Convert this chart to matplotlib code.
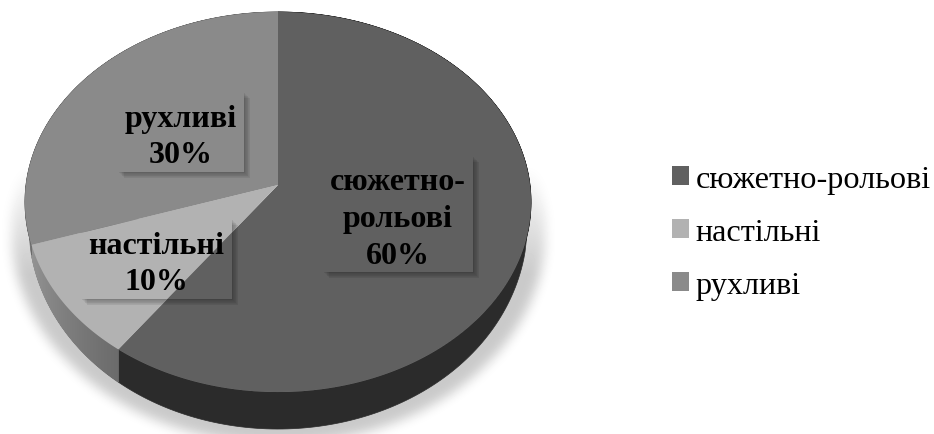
import numpy as np
import matplotlib
matplotlib.use("Agg")
import matplotlib.pyplot as plt
from matplotlib.patches import Patch, Rectangle

labels = ["сюжетно-рольові", "настільні", "рухливі"]
box_labels = ["сюжетно-\nрольові\n60%", "настільні\n10%", "рухливі\n30%"]
values = [60, 10, 30]
colors = ["#606060", "#b2b2b2", "#8a8a8a"]
side_colors = ["#2b2b2b", "#7c7c7c", "#6a6a6a"]

plt.rcParams["font.family"] = ["Liberation Serif", "DejaVu Serif"]

# apex of the pie and perspective of the tilted disc, in pixels
cx, cy = 278, 186
rx, ry, persp = 252, 188.5, 0.0895
depth = 37


def project(angle):
    # angle is clockwise from the top
    x = np.sin(angle)
    y = np.cos(angle)
    w = 1 + persp * y
    return cx + rx * x / w, cy - ry * y / w


def wall(angle):
    # the wall thins out towards the sides of the disc
    return depth * np.clip((-np.cos(angle) - 0.28) / 0.72, 0, 1) ** 0.4


def blur(a, n, passes=3):
    kernel = np.ones(n) / n
    for _ in range(passes):
        a = np.apply_along_axis(lambda r: np.convolve(r, kernel, mode="same"), 0, a)
        a = np.apply_along_axis(lambda r: np.convolve(r, kernel, mode="same"), 1, a)
    return a


fig = plt.figure(figsize=(9.34, 4.35), dpi=100)
ax = fig.add_axes([0, 0, 1, 1])
ax.axis("off")

# soft shadow behind the pie
yy, xx = np.mgrid[-40:475, 0:600]
shape = (((xx - 278) / 267.0) ** 2 + ((yy - 232) / 212.0) ** 2 < 1).astype(float)
soft = blur(shape, 11)
fade = np.clip((yy - 165) / 110.0, 0, 1)
shade = 1 - 0.21 * soft * fade
ax.imshow(shade, cmap="gray", vmin=0, vmax=1, extent=(0, 600, 475, -40), aspect="auto", zorder=0)
ax.set_xlim(0, 934)
ax.set_ylim(435, 0)

# side wall, then the top surface
edges = np.cumsum([0] + values) / sum(values) * 2 * np.pi
for i in range(len(values)):
    t = np.linspace(edges[i], edges[i + 1], 200)
    px, py = project(t)
    d = wall(t)
    if i == 1:
        # the light slice has a shaded wall
        for j in range(len(t) - 1):
            g = 0.42 + 0.16 * j / (len(t) - 2)
            ax.fill([px[j], px[j + 1], px[j + 1], px[j]],
                    [py[j], py[j + 1], py[j + 1] + d[j + 1], py[j] + d[j]],
                    color=str(g), lw=0.6, zorder=1)
    else:
        ax.fill(np.r_[px, px[::-1]], np.r_[py, (py + d)[::-1]],
                color=side_colors[i], lw=0.5, zorder=1)

for i in range(len(values)):
    t = np.linspace(edges[i], edges[i + 1], 200)
    px, py = project(t)
    ax.fill(np.r_[cx, px], np.r_[cy, py], color=colors[i], lw=0, zorder=2)

# label boxes are see-through, only their drop shadows show
boxes = [(323, 157, 150, 116), (81, 220, 151, 80), (118, 93, 126, 80)]
for (bx, by, bw, bh), lab in zip(boxes, box_labels):
    for k in range(9, 0, -1):
        ax.add_patch(Rectangle((bx + k * 0.7, by + k * 0.7), bw, bh, fc="black", ec="none",
                               alpha=0.035, zorder=3))
    # the shadow must not show through the box, so repaint the slices inside it
    rect = Rectangle((bx, by), bw, bh, fc="none", ec="none", zorder=4)
    ax.add_patch(rect)
    for i in range(len(values)):
        t = np.linspace(edges[i], edges[i + 1], 200)
        px, py = project(t)
        poly = ax.fill(np.r_[cx, px], np.r_[cy, py], color=colors[i], lw=0, zorder=4)[0]
        poly.set_clip_path(rect)
    ax.text(bx + bw / 2, by + bh / 2 + 4.5, lab, ha="center", va="center", fontsize=23,
            fontweight="bold", color="black", linespacing=1.36, zorder=5)

handles = [Patch(fc=c, ec="none") for c in colors]
ax.legend(handles, labels, loc="upper left", bbox_to_anchor=(672 / 934, 1 - 166 / 435),
          frameon=False, fontsize=23.2, handlelength=0.53, handleheight=0.53,
          handletextpad=0.2, labelspacing=0.74, borderaxespad=0, borderpad=0)

fig.savefig("out.png", dpi=100)
